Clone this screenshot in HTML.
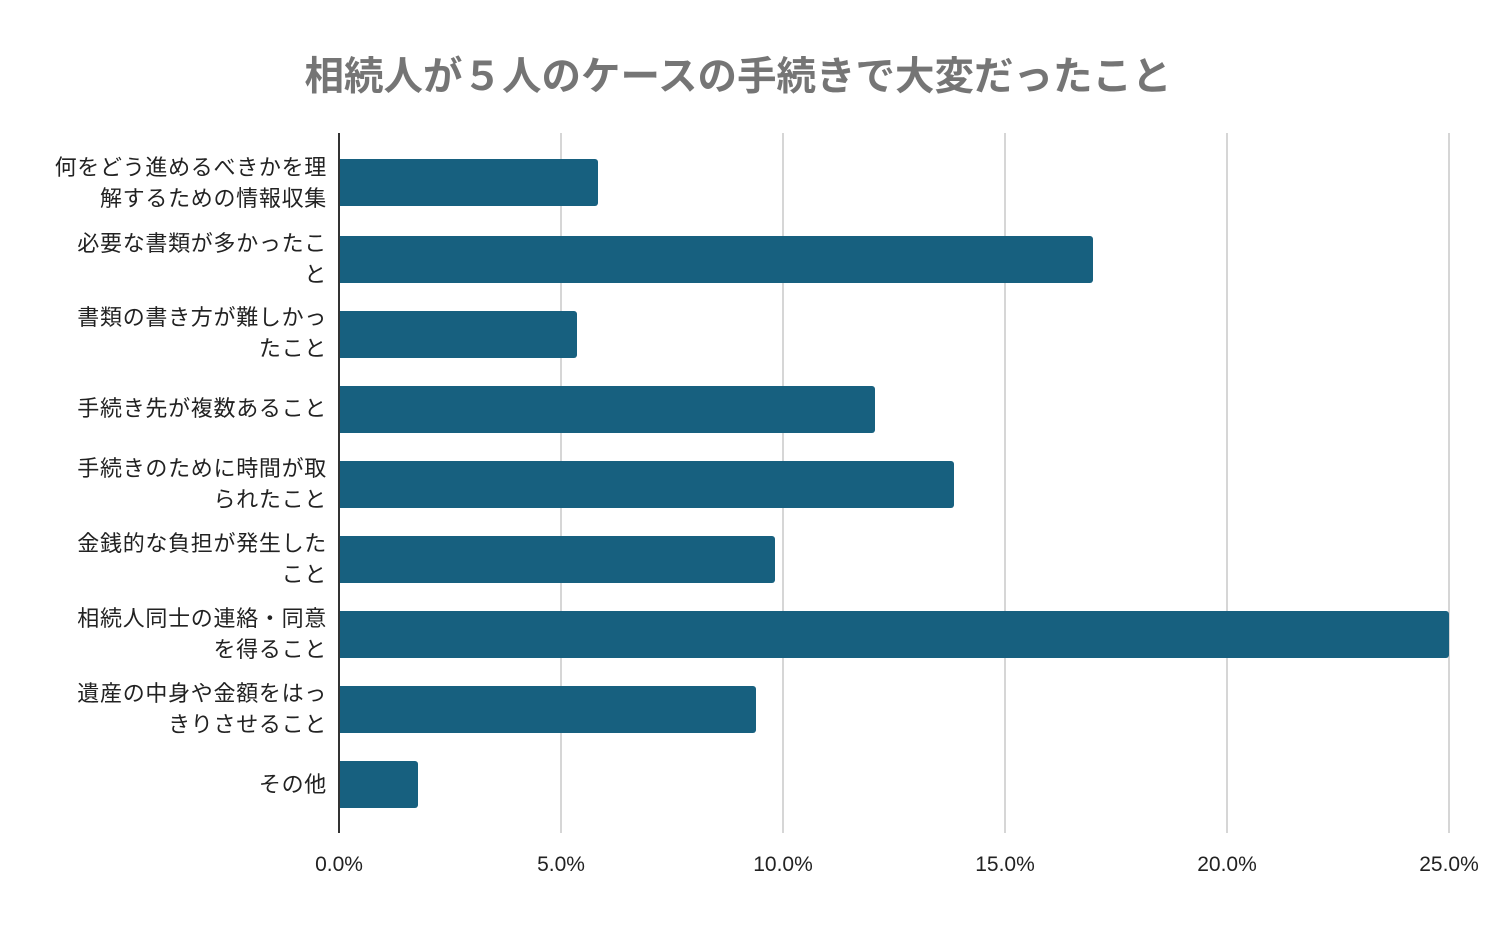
<!DOCTYPE html>
<html><head><meta charset="utf-8"><style>
body{margin:0;background:#fff;width:1496px;height:925px;overflow:hidden;font-family:"Liberation Sans","Noto Sans CJK JP",sans-serif;}
.t{position:absolute;left:0;width:1476px;top:45px;text-align:center;font-size:39.5px;font-weight:bold;color:#757575;}
.l{position:absolute;right:1169px;text-align:right;font-size:22px;letter-spacing:0.7px;line-height:31px;color:#222;white-space:nowrap;}
.b{position:absolute;left:339px;height:47px;background:#17607f;border-radius:0 3px 3px 0;}
.g{position:absolute;top:133px;height:700px;width:2px;background:#d6d6d6;}
.x{position:absolute;top:853px;font-size:21px;color:#222;width:100px;text-align:center;}
</style></head><body>
<div class="t">相続人が５人のケースの手続きで大変だったこと</div>
<div class="g" style="left:560px"></div><div class="g" style="left:782px"></div><div class="g" style="left:1004px"></div><div class="g" style="left:1226px"></div><div class="g" style="left:1448px"></div>
<div class="b" style="top:159px;width:259px"></div>
<div class="b" style="top:236px;width:754px"></div>
<div class="b" style="top:311px;width:238px"></div>
<div class="b" style="top:386px;width:536px"></div>
<div class="b" style="top:461px;width:615px"></div>
<div class="b" style="top:536px;width:436px"></div>
<div class="b" style="top:611px;width:1110px"></div>
<div class="b" style="top:686px;width:417px"></div>
<div class="b" style="top:761px;width:79px"></div>
<div style="position:absolute;left:338px;top:133px;width:2px;height:700px;background:#333"></div>
<div class="l" style="top:152px">何をどう進めるべきかを理<br>解するための情報収集</div>
<div class="l" style="top:228px">必要な書類が多かったこ<br>と</div>
<div class="l" style="top:302px">書類の書き方が難しかっ<br>たこと</div>
<div class="l" style="top:393px">手続き先が複数あること</div>
<div class="l" style="top:453px">手続きのために時間が取<br>られたこと</div>
<div class="l" style="top:528px">金銭的な負担が発生した<br>こと</div>
<div class="l" style="top:603px">相続人同士の連絡・同意<br>を得ること</div>
<div class="l" style="top:678px">遺産の中身や金額をはっ<br>きりさせること</div>
<div class="l" style="top:769px">その他</div>
<div class="x" style="left:289px">0.0%</div>
<div class="x" style="left:511px">5.0%</div>
<div class="x" style="left:733px">10.0%</div>
<div class="x" style="left:955px">15.0%</div>
<div class="x" style="left:1177px">20.0%</div>
<div class="x" style="left:1399px">25.0%</div>
</body></html>
